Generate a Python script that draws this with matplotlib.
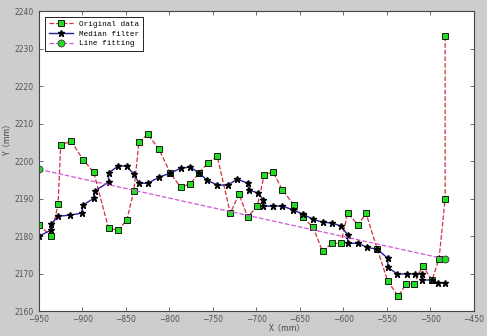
import numpy as np
import matplotlib.pyplot as plt

# original data (green squares)
x_orig = [-950, -936, -928, -925, -913, -899, -887, -870, -859, -849, -841, -835,
          -825, -812, -799, -787, -776, -766, -756, -745, -730, -720, -710, -699,
          -691, -681, -670, -657, -647, -635, -624, -613, -603, -595, -583, -574,
          -561, -549, -537, -528, -519, -509, -498, -490, -483, -483]
y_orig = [2183, 2180, 2188.5, 2204.3, 2205.3, 2200.3, 2197, 2182.1, 2181.6, 2184.3,
          2192, 2205, 2207.2, 2203.2, 2196.8, 2193, 2194, 2196.8, 2199.5, 2201.3,
          2186.1, 2191.2, 2185.1, 2188, 2196.3, 2197.1, 2192.3, 2188.3, 2185.1,
          2182.4, 2176, 2178.1, 2178.1, 2186.1, 2183, 2186.1, 2176.5, 2168, 2164,
          2167.2, 2167.2, 2172, 2168.3, 2174, 2190, 2233.3]

# median filter (black stars, blue line)
x_med = [-950, -936, -936, -928, -914, -901, -899, -887, -886, -870, -870, -859,
         -849, -841, -835, -825, -812, -799, -787, -776, -766, -757, -745, -733,
         -722, -710, -709, -698, -692, -692, -681, -670, -658, -647, -635, -624,
         -613, -603, -595, -595, -583, -573, -561, -549, -549, -538, -527, -518,
         -510, -510, -498, -491, -483]
y_med = [2180, 2181.6, 2183.2, 2185.3, 2185.6, 2186.1, 2188.3, 2190.1, 2192, 2194.4,
         2196.8, 2198.7, 2198.7, 2196.5, 2194.1, 2194.1, 2195.7, 2196.8, 2198.1,
         2198.4, 2196.8, 2195, 2193.6, 2193.6, 2195.2, 2194.1, 2192.3, 2191.5,
         2189.6, 2188, 2188, 2188, 2187, 2185.9, 2184.5, 2183.7, 2183.5, 2182.7,
         2180.3, 2178.1, 2178.1, 2177, 2176.5, 2174.1, 2171.7, 2169.9, 2169.9,
         2169.9, 2169.9, 2168.3, 2168.3, 2167.5, 2167.5]

# line fitting end points
x_fit = [-950, -483]
y_fit = [2197.8, 2173.9]

fig = plt.figure(figsize=(4.87, 3.36), dpi=100, facecolor='#cdcdcd')
ax = fig.add_axes([0.080, 0.074, 0.893, 0.893])

ax.plot(x_orig, y_orig, linestyle='--', color='#d03040', lw=0.9,
        marker='s', ms=4, mfc='#22dd22', mec='black', mew=0.6, label='Original data')
ax.plot(x_med, y_med, linestyle='-', color='#22229a', lw=1.0,
        marker='*', ms=5, mfc='black', mec='black', label='Median filter')
ax.plot(x_fit, y_fit, linestyle='--', color='#d058d8', lw=0.9,
        marker='o', ms=5, mfc='#22dd22', mec='#333333', mew=0.6, label='Line fitting')

ax.set_xlim(-950, -450)
ax.set_ylim(2160, 2240)
ax.set_xticks(np.arange(-950, -449, 50))
ax.set_yticks(np.arange(2160, 2241, 10))
ax.tick_params(direction='in', top=True, right=True, length=3, width=0.6,
               labelsize=5.5, labelcolor='#555555', color='#555555')
ax.tick_params(axis='x', pad=3)
ax.tick_params(axis='y', pad=3.5)
for s in ax.spines.values():
    s.set_linewidth(0.8)
    s.set_color('#444444')

ax.set_xlabel('X（mm）', family=['Noto Sans CJK SC', 'DejaVu Sans'], fontsize=6, color='#444444')
ax.set_ylabel('Y（mm）', family=['Noto Sans CJK SC', 'DejaVu Sans'], fontsize=6, color='#444444')
ax.xaxis.set_label_coords(0.57, -0.04)
ax.yaxis.set_label_coords(-0.065, 0.58)

leg = ax.legend(loc='upper left', prop={'family': 'Liberation Mono', 'size': 5.5},
                fancybox=False, edgecolor='black', framealpha=1,
                handlelength=3.2, borderaxespad=0.8, labelspacing=0.3, borderpad=0.45)
leg.get_frame().set_linewidth(0.6)

fig.savefig('out.png', dpi=100, facecolor=fig.get_facecolor())
